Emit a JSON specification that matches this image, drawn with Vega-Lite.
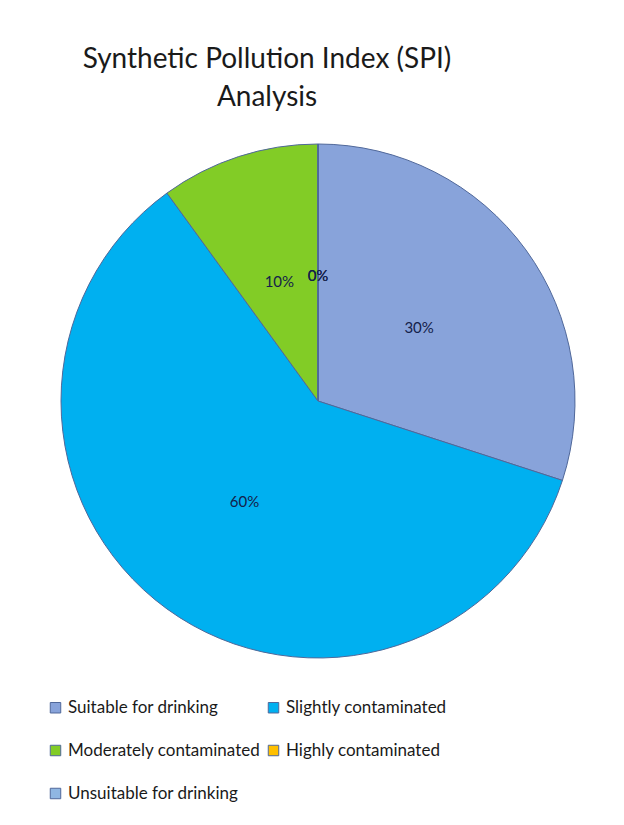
{
  "$schema": "https://vega.github.io/schema/vega-lite/v6.json",
  "autosize": {"type": "none"},
  "width": 514,
  "height": 514,
  "padding": {"left": 61, "top": 144, "right": 49, "bottom": 167},
  "background": "white",
  "title": {
    "text": ["Synthetic Pollution Index (SPI)", "Analysis"],
    "anchor": "middle",
    "frame": "group",
    "dx": -51,
    "offset": 30,
    "font": "Lato",
    "fontSize": 28,
    "fontWeight": "normal",
    "lineHeight": 38,
    "color": "#1a1a1a"
  },
  "data": {
    "values": [
      {"cat": "Suitable for drinking", "v": 30, "o": 1, "label": "30%"},
      {"cat": "Slightly contaminated", "v": 60, "o": 2, "label": "60%"},
      {"cat": "Moderately contaminated", "v": 10, "o": 3, "label": "10%"},
      {"cat": "Highly contaminated", "v": 0, "o": 4, "label": "0%"},
      {"cat": "Unsuitable for drinking", "v": 0, "o": 5, "label": "0%"}
    ]
  },
  "encoding": {
    "theta": {"field": "v", "type": "quantitative", "stack": true},
    "order": {"field": "o", "type": "quantitative"}
  },
  "layer": [
    {
      "mark": {"type": "arc", "stroke": "#50689a", "strokeWidth": 1},
      "encoding": {
        "color": {
          "field": "cat",
          "type": "nominal",
          "scale": {
            "domain": ["Suitable for drinking", "Slightly contaminated", "Moderately contaminated", "Highly contaminated", "Unsuitable for drinking"],
            "range": ["#88a3da", "#00b0f0", "#82cc26", "#ffc000", "#8fb6e2"]
          },
          "legend": {
            "title": null,
            "orient": "none",
            "legendX": -14,
            "legendY": 555,
            "direction": "horizontal",
            "columns": 2,
            "columnPadding": 4,
            "rowPadding": 25,
            "symbolType": "square",
            "symbolSize": 110,
            "symbolStrokeWidth": 1,
            "labelFont": "Lato",
            "labelFontSize": 17,
            "labelColor": "#1a1a1a",
            "labelOffset": 4,
            "labelLimit": 400
          }
        }
      }
    },
    {
      "mark": {"type": "text", "radius": 125, "font": "Lato", "fontSize": 15, "color": "#14214a"},
      "encoding": {"text": {"field": "label", "type": "nominal"}}
    }
  ]
}
